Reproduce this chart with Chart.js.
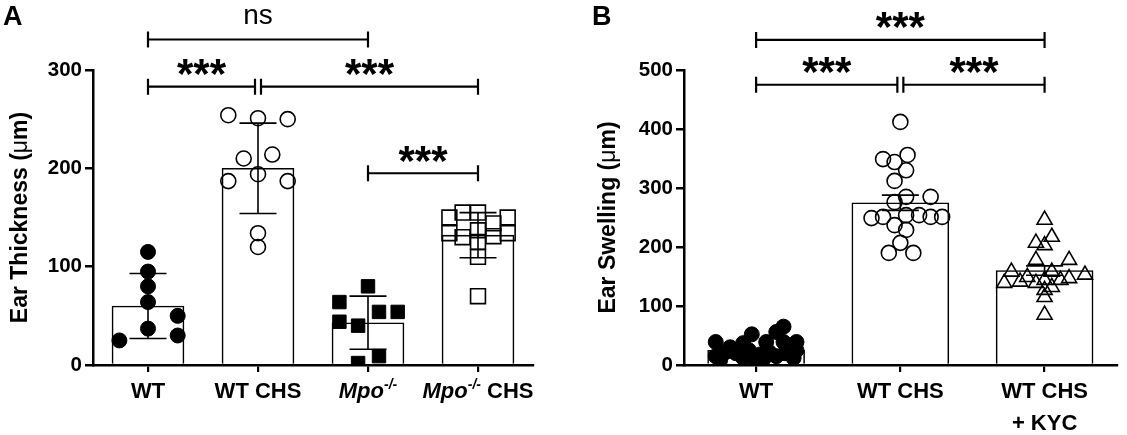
<!DOCTYPE html>
<html>
<head>
<meta charset="utf-8">
<script src="https://cdn.jsdelivr.net/npm/chart.js@4.4.1/dist/chart.umd.min.js"></script>
<style>
  html, body { margin: 0; padding: 0; background: #fff; }
  #wrap { position: relative; width: 1127px; height: 435px; overflow: hidden; }
  canvas { position: absolute; top: 0; }
  #panelA { left: 0; }
  #panelB { left: 560px; }
</style>
</head>
<body>
<div id="wrap">
  <canvas id="panelA" width="560" height="435"></canvas>
  <canvas id="panelB" width="567" height="435"></canvas>
</div>
<script>
const FONT = '"Liberation Sans", Arial, Helvetica, sans-serif';

// ---------- Panel A : ear thickness, mean +/- SD ----------
const meanA = [60, 200, 43, 132];
const sdA = [33, 46, 27, 23];
// each point: [offset from the group centre, value]
const wtA = [[0, 115], [0, 95], [0, 80], [0, 64], [0, 37], [0.27, 50], [0.27, 30], [-0.26, 25]];
const chsA = [[-0.27, 254], [0, 251], [0.27, 250], [-0.13, 210], [0.13, 214], [0, 194],
  [-0.27, 187], [0.27, 187], [0, 134], [0, 120]];
const mpoA = [[0, 80], [-0.26, 64], [0.1, 54], [0.27, 54], [-0.26, 44], [-0.09, 40], [0.1, 9], [-0.09, 2]];
const mpoChsA = [[-0.14, 155], [0, 155], [-0.26, 150], [0.27, 150], [0.14, 144], [0, 137],
  [-0.26, 134], [0.27, 134], [0.14, 131], [-0.14, 130], [0, 125], [0, 110], [0, 70]];
const ticksA = [0, 100, 200, 300];
const labelsA = [
  [{t: 'WT'}],
  [{t: 'WT CHS'}],
  [{t: 'Mpo', it: true}, {t: '-/-', it: true, sup: true}],
  [{t: 'Mpo', it: true}, {t: '-/-', it: true, sup: true}, {t: ' CHS'}]
];
const bracketsA = [
  {from: 0, to: 2, y: 331, text: 'ns'},
  {from: 0, to: 1, y: 283, text: '***'},
  {from: 1, to: 3, y: 283, text: '***'},
  {from: 2, to: 3, y: 195, text: '***'}
];

// ---------- Panel B : ear swelling, mean +/- SEM ----------
const meanB = [25, 275, 160];
const semB = [3, 13, 8];
const wtB = [[-0.28, 39], [-0.03, 52], [-0.09, 37], [0.07, 39], [0.14, 56], [0.19, 65], [0.19, 39],
  [0.28, 39], [-0.18, 30], [-0.28, 15], [-0.21, 22], [-0.14, 20], [-0.09, 12], [-0.05, 25], [0, 5],
  [0.03, 18], [0.09, 22], [0.14, 15], [0.2, 20], [0.26, 12], [0.28, 25], [-0.25, 8], [0.05, 10]];
const chsB = [[0, 412], [-0.12, 349], [-0.04, 344], [0.05, 356], [0.04, 330], [-0.04, 312],
  [0.04, 285], [0.21, 285], [-0.04, 276], [-0.2, 249], [-0.12, 251], [-0.04, 237], [0.04, 254],
  [0.13, 254], [0.21, 251], [0.29, 251], [0.04, 229], [0, 207], [-0.08, 190], [0.09, 190]];
const kycB = [[0, 246], [0.05, 217], [-0.06, 207], [0, 203], [-0.06, 178], [0.17, 178], [-0.23, 158],
  [0.05, 158], [0.28, 153], [-0.28, 139], [-0.17, 141], [-0.12, 149], [-0.06, 139], [0, 144],
  [0.11, 144], [0.17, 147], [0.05, 132], [0, 127], [0, 115], [0, 85]];
const ticksB = [0, 100, 200, 300, 400, 500];
const labelsB = [
  [{t: 'WT'}],
  [{t: 'WT CHS'}],
  [{t: 'WT CHS'}],
];
const labelsB2 = ['', '', '+ KYC'];
const bracketsB = [
  {from: 0, to: 2, y: 551, text: '***'},
  {from: 0, to: 1, y: 475, text: '***'},
  {from: 1, to: 2, y: 475, text: '***'}
];

function toPoints(list, group) {
  return list.map(p => ({x: group + p[0], y: p[1]}));
}

function drawParts(ctx, parts, cx, y, size) {
  const fontOf = p => (p.it ? 'italic ' : '') + (p.light ? '' : 'bold ') +
    (p.sup ? Math.round(size * 0.62) : size) + 'px ' + FONT;
  let w = 0;
  parts.forEach(p => { ctx.font = fontOf(p); w += ctx.measureText(p.t).width; });
  let x = cx - w / 2;
  ctx.textAlign = 'left';
  parts.forEach(p => {
    ctx.font = fontOf(p);
    ctx.fillText(p.t, x, p.sup ? y - size * 0.42 : y);
    x += ctx.measureText(p.t).width;
  });
}

const decoPlugin = {
  id: 'deco',
  afterDatasetDraw(chart, args, o) {
    // error bars go over the bars but under the points
    if (args.index !== 0) return;
    const ctx = chart.ctx, xs = chart.scales.x, ys = chart.scales.y;
    ctx.save();
    ctx.strokeStyle = '#000';
    ctx.lineWidth = 1.6;
    o.mean.forEach((m, i) => {
      const x = xs.getPixelForValue(i);
      const top = ys.getPixelForValue(m + o.err[i]);
      const bot = ys.getPixelForValue(Math.max(0, m - o.err[i]));
      ctx.beginPath();
      ctx.moveTo(x, top); ctx.lineTo(x, bot);
      ctx.moveTo(x - 18.5, top); ctx.lineTo(x + 18.5, top);
      ctx.moveTo(x - 18.5, bot); ctx.lineTo(x + 18.5, bot);
      ctx.stroke();
    });
    ctx.restore();
  },
  afterDraw(chart, args, o) {
    const ctx = chart.ctx, xs = chart.scales.x, ys = chart.scales.y, area = chart.chartArea;
    ctx.save();
    ctx.fillStyle = '#000';
    ctx.strokeStyle = '#000';
    ctx.textBaseline = 'alphabetic';

    // panel letter
    ctx.font = 'bold 27px ' + FONT;
    ctx.textAlign = 'left';
    ctx.fillText(o.letter, o.letterX, 25);

    // y title, rotated
    ctx.save();
    ctx.translate(o.titleX, (area.top + area.bottom) / 2);
    ctx.rotate(-Math.PI / 2);
    ctx.textBaseline = 'middle';
    drawParts(ctx, o.title, 0, 0, 23);
    ctx.restore();

    // category labels
    o.labels.forEach((parts, i) => {
      drawParts(ctx, parts, xs.getPixelForValue(i), 398, 22);
      if (o.labels2 && o.labels2[i]) drawParts(ctx, [{t: o.labels2[i]}], xs.getPixelForValue(i), 430, 22);
    });

    // significance brackets
    ctx.lineWidth = 2.2;
    o.brackets.forEach(b => {
      let x1 = xs.getPixelForValue(b.from), x2 = xs.getPixelForValue(b.to);
      const same = o.brackets.filter(q => q !== b && q.y === b.y);
      if (same.some(q => q.to === b.from)) x1 += 3;
      if (same.some(q => q.from === b.to)) x2 -= 3;
      const y = ys.getPixelForValue(b.y);
      ctx.beginPath();
      ctx.moveTo(x1, y); ctx.lineTo(x2, y);
      ctx.moveTo(x1, y - 8); ctx.lineTo(x1, y + 8);
      ctx.moveTo(x2, y - 8); ctx.lineTo(x2, y + 8);
      ctx.stroke();
      ctx.textAlign = 'center';
      if (b.text === 'ns') {
        ctx.font = '28px ' + FONT;
        ctx.fillText(b.text, (x1 + x2) / 2, y - 16);
      } else {
        ctx.font = 'bold 42px ' + FONT;
        ctx.fillText(b.text, (x1 + x2) / 2, y - 23 + 0.585 * 42);
      }
    });
    ctx.restore();
  }
};

function makeChart(id, cfg) {
  const xAxis = {
    type: 'linear',
    min: -0.5,
    max: cfg.nGroups - 0.5,
    offset: false,
    afterBuildTicks: s => { s.ticks = cfg.mean.map((m, i) => ({value: i})); },
    afterFit: s => { s.height = 70; },
    ticks: {display: false},
    grid: {display: true, offset: false, drawOnChartArea: false, drawTicks: true, tickLength: 7,
      color: '#000', lineWidth: 2.2},
    border: {display: true, color: '#000', width: 2.5}
  };
  const yAxis = {
    type: 'linear',
    min: 0,
    max: cfg.ticks[cfg.ticks.length - 1],
    afterBuildTicks: s => { s.ticks = cfg.ticks.map(v => ({value: v})); },
    afterFit: s => { s.width = cfg.yWidth; },
    ticks: {color: '#000', padding: 3, font: {family: FONT, size: 20.5, weight: 'bold'}},
    grid: {display: true, drawOnChartArea: false, drawTicks: true, tickLength: 8,
      color: '#000', lineWidth: 2.5},
    border: {display: true, color: '#000', width: 2.5}
  };
  const datasets = [{
    type: 'bar',
    data: cfg.mean.map((m, i) => ({x: i, y: m})),
    backgroundColor: '#fff',
    borderColor: '#000',
    borderWidth: 1.6,
    barThickness: cfg.barWidth,
    order: 5
  }];
  cfg.groups.forEach(g => datasets.push({
    type: 'scatter',
    data: g.pts,
    pointStyle: g.style,
    pointRadius: g.radius,
    backgroundColor: g.filled ? '#000' : 'rgba(255,255,255,0)',
    borderColor: '#000',
    borderWidth: g.filled ? 1 : 1.6,
    order: 1
  }));
  return new Chart(document.getElementById(id), {
    type: 'bar',
    data: {datasets},
    options: {
      responsive: false,
      animation: false,
      layout: {padding: {top: 70, right: cfg.padRight, bottom: 0, left: 0}},
      scales: {x: xAxis, y: yAxis},
      plugins: {
        legend: {display: false},
        tooltip: {enabled: false},
        deco: {
          letter: cfg.letter, letterX: cfg.letterX, titleX: cfg.titleX, title: cfg.title,
          labels: cfg.labels, labels2: cfg.labels2, brackets: cfg.brackets,
          mean: cfg.mean, err: cfg.err
        }
      }
    },
    plugins: [decoPlugin]
  });
}

makeChart('panelA', {
  nGroups: 4, mean: meanA, err: sdA, ticks: ticksA, yWidth: 93, padRight: 27, barWidth: 72,
  letter: 'A', letterX: 3, titleX: 21,
  title: [{t: 'Ear Thickness ('}, {t: 'μ', light: true}, {t: 'm)'}],
  labels: labelsA, labels2: null, brackets: bracketsA,
  groups: [
    {pts: toPoints(wtA, 0), style: 'circle', radius: 7.5, filled: true},
    {pts: toPoints(chsA, 1), style: 'circle', radius: 7.5, filled: false},
    {pts: toPoints(mpoA, 2), style: 'rect', radius: 9.5, filled: true},
    {pts: toPoints(mpoChsA, 3), style: 'rect', radius: 10.5, filled: false}
  ]
});

makeChart('panelB', {
  nGroups: 3, mean: meanB, err: semB, ticks: ticksB, yWidth: 124, padRight: 2, barWidth: 97,
  letter: 'B', letterX: 32, titleX: 49,
  title: [{t: 'Ear Swelling ('}, {t: 'μ', light: true}, {t: 'm)'}],
  labels: labelsB, labels2: labelsB2, brackets: bracketsB,
  groups: [
    {pts: toPoints(wtB, 0), style: 'circle', radius: 7.5, filled: true},
    {pts: toPoints(chsB, 1), style: 'circle', radius: 7.5, filled: false},
    {pts: toPoints(kycB, 2), style: 'triangle', radius: 8.7, filled: false}
  ]
});
</script>
</body>
</html>
